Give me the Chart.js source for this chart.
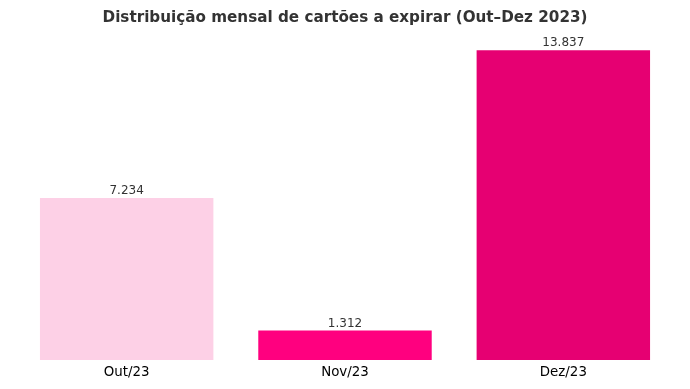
<!DOCTYPE html>
<html>
<head>
<meta charset="utf-8">
<script src="https://cdn.jsdelivr.net/npm/chart.js@4"></script>
<style>
  html, body { margin: 0; padding: 0; background: #fff; }
  #wrap { width: 690px; height: 389px; }
</style>
</head>
<body>
<div id="wrap"><canvas id="chart"></canvas></div>
<script>
const months = ["Out/23", "Nov/23", "Dez/23"];
const cardsExpiring = [7234, 1312, 13837];
const barColors = ["#FDD0E6", "#FF007F", "#E60072"];

// labels above each bar, pt-BR thousands separator
const valueLabels = {
  id: "valueLabels",
  afterDatasetsDraw(chart) {
    const ctx = chart.ctx;
    const meta = chart.getDatasetMeta(0);
    ctx.save();
    ctx.font = "12px 'DejaVu Sans'";
    ctx.fillStyle = "#333333";
    ctx.textAlign = "center";
    ctx.textBaseline = "bottom";
    meta.data.forEach((bar, i) => {
      ctx.fillText(cardsExpiring[i].toLocaleString("pt-BR"), bar.x, bar.y - 1);
    });
    ctx.restore();
  },
};

new Chart(document.getElementById("chart"), {
  type: "bar",
  data: {
    labels: months,
    datasets: [
      {
        data: cardsExpiring,
        backgroundColor: barColors,
        borderWidth: 0,
        barPercentage: 0.8,
        categoryPercentage: 0.993,
      },
    ],
  },
  options: {
    responsive: true,
    maintainAspectRatio: false,
    animation: false,
    layout: { padding: { left: 17.5, right: 17.5, top: 0, bottom: 3 } },
    plugins: {
      legend: { display: false },
      tooltip: { enabled: false },
      title: {
        display: true,
        text: "Distribuição mensal de cartões a expirar (Out–Dez 2023)",
        color: "#333333",
        font: { family: "'DejaVu Sans'", size: 15.2, weight: "bold" },
        padding: { top: 9, bottom: 7.5 },
      },
    },
    scales: {
      x: {
        grid: { display: false, drawTicks: false },
        border: { display: false },
        ticks: {
          color: "#000000",
          padding: 5,
          font: { family: "'DejaVu Sans'", size: 13.4 },
        },
      },
      y: {
        display: false,
        min: 0,
        max: 14530,
      },
    },
  },
  plugins: [valueLabels],
});
</script>
</body>
</html>
